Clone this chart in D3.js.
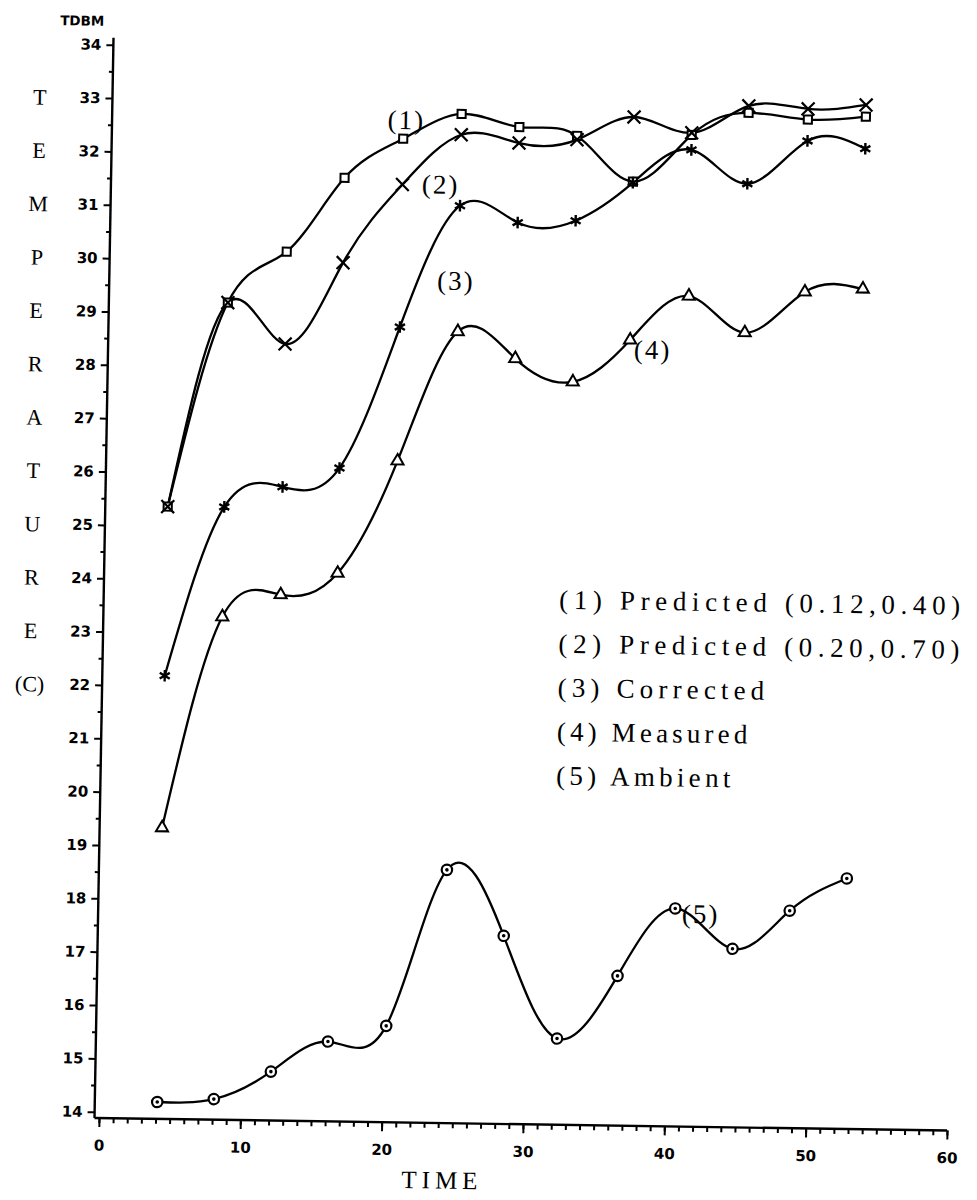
<!DOCTYPE html>
<html><head><meta charset="utf-8">
<script src="https://cdn.jsdelivr.net/npm/d3@7"></script>
<style>body{margin:0;background:#fff}svg{display:block}</style>
</head><body>
<svg id="chart" width="977" height="1200"></svg>
<script>
// ---- data ----
const timesUpper   = [4.1, 8.1, 12.2, 16.2, 20.3, 24.4, 28.5, 32.6, 36.6, 40.7, 44.7, 48.9, 53.0];
const timesAmbient = [4.1, 8.1, 12.1, 16.1, 20.2, 24.3, 28.4, 32.3, 36.5, 40.5, 44.6, 48.6, 52.6];
const predicted1 = [25.36, 29.20, 30.17, 31.57, 32.32, 32.80, 32.57, 32.42, 31.58, 32.47, 32.90, 32.79, 32.86];
const predicted2 = [25.36, 29.20, 28.44, 29.98, 31.46, 32.41, 32.27, 32.35, 32.79, 32.51, 33.03, 32.99, 33.08];
const corrected  = [22.19, 25.37, 25.76, 26.13, 28.79, 31.08, 30.78, 30.83, 31.56, 32.19, 31.57, 32.39, 32.26];
const measured   = [19.34, 23.31, 23.74, 24.16, 26.28, 28.72, 28.23, 27.81, 28.61, 29.45, 28.78, 29.56, 29.63];
const ambient    = [14.20, 14.27, 14.80, 15.38, 15.69, 18.63, 17.41, 15.50, 16.69, 17.97, 17.23, 17.96, 18.58];
const legendLabels = ["(1) Predicted (0.12,0.40)", "(2) Predicted (0.20,0.70)", "(3) Corrected", "(4) Measured", "(5) Ambient"];
const seriesTags = ["(1)", "(2)", "(3)", "(4)", "(5)"];
const tagTimes  = [20.5, 23.0, 24.2, 38.2, 42.3];
const tagValues = [32.67, 31.47, 29.67, 28.43, 17.87];
const xTicks = [0, 10, 20, 30, 40, 50, 60];
const xLabels = ["0", "10", "20", "30", "40", "50", "60"];
const yTicks = d3.range(14, 35, 1);
const yTitleLetters = ["T", "E", "M", "P", "E", "R", "A", "T", "U", "R", "E", "(C)"];
const yTitleRows = [33, 32, 31, 30, 29, 28, 27, 26, 25, 24, 23, 22];
const xTitle = "TIME";
const yUnitTitle = "TDBM";

// ---- layout ----
const svg = d3.select("#chart");
svg.append("rect").attr("width", 977).attr("height", 1200).attr("fill", "#fff");
// the scanned original is slightly skewed; reproduce that skew on the whole plot
const root = svg.append("g")
  .attr("transform", "translate(99,1118) matrix(1,0.0148,-0.0176,1,0,0) translate(-99,-1118)");

const x = d3.scaleLinear().domain([0, 60]).range([99, 947]);
const y = d3.scaleLinear().domain([14, 34]).range([1111.8, 44.8]);
const axisY0 = 1118, axisX0 = 94.5;

const tickFont = "'DejaVu Sans', sans-serif";
const serifFont = "'Liberation Serif', serif";

// axis lines
root.append("line").attr("x1", axisX0).attr("x2", x(60)).attr("y1", axisY0).attr("y2", axisY0)
  .attr("stroke", "#000").attr("stroke-width", 2.4);
root.append("line").attr("x1", axisX0).attr("x2", axisX0).attr("y1", axisY0).attr("y2", y(34) - 7)
  .attr("stroke", "#000").attr("stroke-width", 2.4);

// x axis
const gx = root.append("g").attr("transform", `translate(0,${axisY0})`);
gx.call(d3.axisBottom(x).tickValues(d3.range(0, 61, 1)).tickSize(5).tickFormat(""));
gx.append("g").call(d3.axisBottom(x).tickValues(xTicks).tickSize(9).tickPadding(13)
  .tickFormat((d, i) => xLabels[i]));
gx.selectAll(".domain").remove();
gx.selectAll("line").attr("stroke", "#000").attr("stroke-width", 2);
gx.selectAll("text").attr("font-family", tickFont).attr("font-weight", "bold")
  .attr("font-size", 15).attr("fill", "#000");

// y axis
const gy = root.append("g").attr("transform", `translate(${axisX0},0)`);
gy.call(d3.axisLeft(y).tickValues(d3.range(14.5, 34, 1)).tickSize(4).tickFormat(""));
gy.append("g").call(d3.axisLeft(y).tickValues(yTicks).tickSize(7).tickPadding(5).tickFormat(d3.format("d")));
gy.selectAll(".domain").remove();
gy.selectAll("line").attr("stroke", "#000").attr("stroke-width", 2);
gy.selectAll("text").attr("font-family", tickFont).attr("font-weight", "bold")
  .attr("font-size", 15).attr("fill", "#000");

// titles
root.append("text").attr("x", 63).attr("y", 21).attr("text-anchor", "middle")
  .attr("dominant-baseline", "central").attr("font-family", tickFont).attr("font-weight", "bold")
  .attr("font-size", 13.5).text(yUnitTitle);
root.append("g").selectAll("text").data(yTitleLetters).join("text")
  .attr("x", 22).attr("y", (d, i) => y(yTitleRows[i]))
  .attr("text-anchor", "middle").attr("dominant-baseline", "central")
  .attr("font-family", serifFont).attr("font-size", 22)
  .text(d => d);
root.append("text").attr("x", 443).attr("y", 1175).attr("text-anchor", "middle")
  .attr("dominant-baseline", "central").attr("font-family", serifFont)
  .attr("font-size", 25).attr("letter-spacing", 5).text(xTitle);

// series
const series = [
  {t: timesUpper, v: predicted1, sym: d3.symbolSquare2, size: 85, sw: 2},
  {t: timesUpper, v: predicted2, sym: d3.symbolTimes, size: 110, sw: 2.2},
  {t: timesUpper, v: corrected, sym: d3.symbolAsterisk, size: 95, sw: 2.4},
  {t: timesUpper, v: measured, sym: d3.symbolTriangle2, size: 105, sw: 2},
  {t: timesAmbient, v: ambient, sym: d3.symbolCircle, size: 85, sw: 2.2}
];
const line = d3.line().x(d => x(d[0])).y(d => y(d[1])).curve(d3.curveNatural);
series.forEach(s => {
  const pts = s.t.map((t, i) => [t, s.v[i]]);
  root.append("path").attr("d", line(pts)).attr("fill", "none")
    .attr("stroke", "#000").attr("stroke-width", 2.3);
});
series.forEach((s, k) => {
  const pts = s.t.map((t, i) => [t, s.v[i]]);
  const g = root.append("g");
  g.selectAll("path").data(pts).join("path")
    .attr("transform", d => `translate(${x(d[0])},${y(d[1])})`)
    .attr("d", d3.symbol(s.sym, s.size))
    .attr("fill", "#fff").attr("stroke", "#000").attr("stroke-width", s.sw);
  if (k === 4) {
    g.selectAll("circle").data(pts).join("circle")
      .attr("cx", d => x(d[0])).attr("cy", d => y(d[1])).attr("r", 1.8).attr("fill", "#000");
  }
});

// in-plot series tags
root.append("g").selectAll("text").data(seriesTags).join("text")
  .attr("x", (d, i) => x(tagTimes[i])).attr("y", (d, i) => y(tagValues[i]))
  .attr("text-anchor", "middle").attr("dominant-baseline", "central")
  .attr("font-family", serifFont).attr("font-size", 27).attr("letter-spacing", 2).text(d => d);

// legend text (typewriter-style spacing)
root.append("g").selectAll("text").data(legendLabels).join("text")
  .attr("x", 550).attr("y", (d, i) => 593 + i * 44)
  .attr("dominant-baseline", "central").attr("font-family", serifFont)
  .attr("font-size", 27)
  .attr("textLength", d => d.length * 16.2 - 4).attr("lengthAdjust", "spacing")
  .style("white-space", "pre").text(d => d);
</script>
</body></html>
